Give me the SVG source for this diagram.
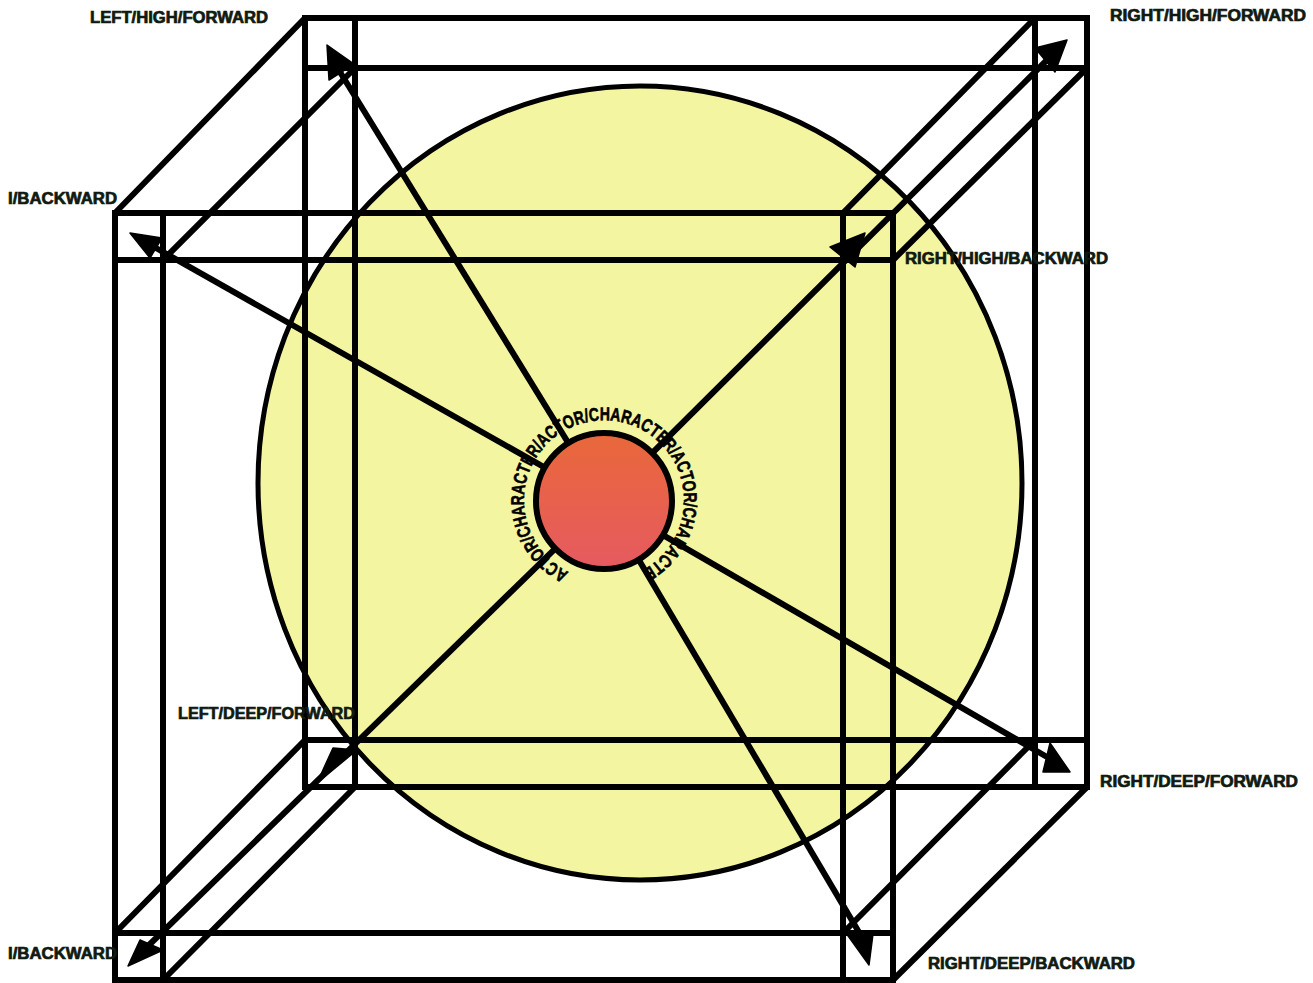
<svg xmlns="http://www.w3.org/2000/svg" width="1313" height="983" viewBox="0 0 1313 983">
<defs>
<style>
.fr{fill:none;stroke:#000;stroke-width:6;stroke-linecap:square}
.ed{stroke:#000;stroke-width:6;fill:none}
.ar{stroke:#000;stroke-width:6;fill:none}
.ah{fill:#000;stroke:#000;stroke-width:1.5;stroke-linejoin:round}
.lb{font-family:"Liberation Sans",Arial,sans-serif;font-weight:bold;font-size:16px;fill:#101a10;stroke:#101a10;stroke-width:0.7}
.rt{font-family:"Liberation Sans",Arial,sans-serif;font-weight:bold;font-size:18.5px;fill:#000;stroke:#000;stroke-width:0.6}
</style>
<linearGradient id="core" x1="0" y1="0" x2="0" y2="1">
<stop offset="0" stop-color="#e9683a"/>
<stop offset="1" stop-color="#e65a60"/>
</linearGradient>
<path id="ring" d="M568.6,572.0 A80,80 0 1 1 639.4,572.0"/>
</defs>
<rect width="1313" height="983" fill="#fff"/>
<ellipse id="field" cx="640" cy="483" rx="382" ry="397" fill="#f4f5a0" stroke="#000" stroke-width="5"/>
<g id="back-face">
<rect class="fr" x="305" y="18" width="782" height="769"/>
<line class="fr" x1="355" y1="18" x2="355" y2="787"/>
<line class="fr" x1="1035" y1="18" x2="1035" y2="787"/>
<line class="fr" x1="305" y1="68" x2="1087" y2="68"/>
<line class="fr" x1="305" y1="740" x2="1087" y2="740"/>
</g>
<g id="front-face">
<rect class="fr" x="115" y="213" width="778" height="767"/>
<line class="fr" x1="163" y1="213" x2="163" y2="980"/>
<line class="fr" x1="843" y1="213" x2="843" y2="980"/>
<line class="fr" x1="115" y1="260" x2="893" y2="260"/>
<line class="fr" x1="115" y1="933" x2="893" y2="933"/>
</g>
<g id="edges">
<line class="ed" x1="305" y1="18" x2="115" y2="213"/>
<line class="ed" x1="355" y1="68" x2="163" y2="260"/>
<line class="ed" x1="1035" y1="18" x2="843" y2="213"/>
<line class="ed" x1="1087" y1="68" x2="893" y2="260"/>
<line class="ed" x1="305" y1="740" x2="115" y2="933"/>
<line class="ed" x1="355" y1="787" x2="163" y2="980"/>
<line class="ed" x1="1087" y1="787" x2="893" y2="980"/>
<line class="ed" x1="1035" y1="740" x2="843" y2="933"/>
</g>
<g id="connectors">
<line class="ar" x1="604" y1="501" x2="340" y2="72"/>
<line class="ar" x1="604" y1="501" x2="1047" y2="60"/>
<line class="ar" x1="604" y1="501" x2="156" y2="248"/>
<line class="ar" x1="604" y1="501" x2="148" y2="946"/>
<line class="ar" x1="604" y1="501" x2="1047" y2="757"/>
<line class="ar" x1="604" y1="501" x2="860" y2="934"/>
<polygon class="ah" points="327,45 329,80 354,64"/>
<polygon class="ah" points="1067,40 1035,48 1055,72"/>
<polygon class="ah" points="130,233 162,238 150,258"/>
<polygon class="ah" points="830,247 865,233 855,267"/>
<polygon class="ah" points="317,783 333,748 357,750"/>
<polygon class="ah" points="128,966 140,940 163,950"/>
<polygon class="ah" points="1070,772 1050,743 1043,772"/>
<polygon class="ah" points="869,965 846,933 873,934"/>
</g>
<g id="actor-character">
<circle cx="604" cy="501" r="68" fill="url(#core)" stroke="#000" stroke-width="6"/>
<text class="rt"><textPath href="#ring" textLength="425" lengthAdjust="spacingAndGlyphs">ACTOR/CHARACTER/ACTOR/CHARACTER/ACTOR/CHARACTE</textPath></text>
</g>
<g id="left-high-forward"><text class="lb" x="90" y="23" textLength="178" lengthAdjust="spacingAndGlyphs">LEFT/HIGH/FORWARD</text></g>
<g id="right-high-forward"><text class="lb" x="1110" y="21" textLength="196" lengthAdjust="spacingAndGlyphs">RIGHT/HIGH/FORWARD</text></g>
<g id="left-high-backward"><text class="lb" x="8" y="204" textLength="109" lengthAdjust="spacingAndGlyphs">I/BACKWARD</text></g>
<g id="right-high-backward"><text class="lb" x="905" y="264" textLength="203" lengthAdjust="spacingAndGlyphs">RIGHT/HIGH/BACKWARD</text></g>
<g id="left-deep-forward"><text class="lb" x="178" y="719" textLength="177" lengthAdjust="spacingAndGlyphs">LEFT/DEEP/FORWARD</text></g>
<g id="right-deep-forward"><text class="lb" x="1100" y="787" textLength="198" lengthAdjust="spacingAndGlyphs">RIGHT/DEEP/FORWARD</text></g>
<g id="left-deep-backward"><text class="lb" x="8" y="959" textLength="109" lengthAdjust="spacingAndGlyphs">I/BACKWARD</text></g>
<g id="right-deep-backward"><text class="lb" x="928" y="969" textLength="207" lengthAdjust="spacingAndGlyphs">RIGHT/DEEP/BACKWARD</text></g>
</svg>
